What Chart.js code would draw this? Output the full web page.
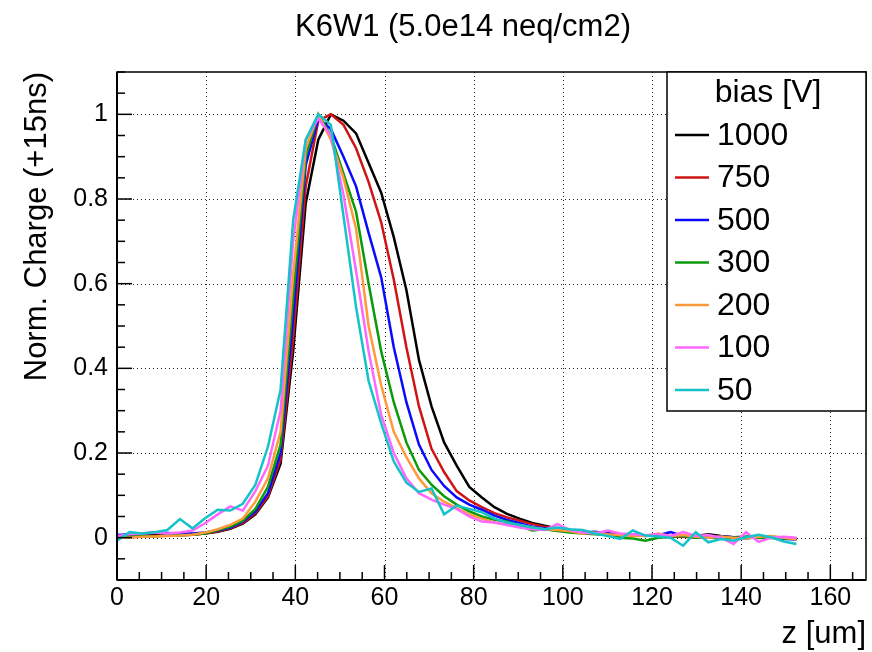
<!DOCTYPE html>
<html>
<head>
<meta charset="utf-8">
<title>K6W1 (5.0e14 neq/cm2)</title>
<script src="https://cdn.jsdelivr.net/npm/chart.js@4.4.1/dist/chart.umd.min.js"></script>
<style>
  html, body { margin: 0; padding: 0; background: #fff; }
  #wrap { width: 872px; height: 652px; }
</style>
</head>
<body>
<div id="wrap"><canvas id="chart" width="872" height="652"></canvas></div>
<script>
// --- DATA ---
const zPositions = [
  0, 2.82, 5.64, 8.47, 11.29, 14.11, 16.93, 19.75, 22.58, 25.40,
  28.22, 31.04, 33.86, 36.69, 39.51, 42.33, 45.15, 47.97, 50.80, 53.62,
  56.44, 59.26, 62.08, 64.91, 67.73, 70.55, 73.37, 76.19, 79.02, 81.84,
  84.66, 87.48, 90.30, 93.13, 95.95, 98.77, 101.59, 104.41, 107.24, 110.06,
  112.88, 115.70, 118.52, 121.35, 124.17, 126.99, 129.81, 132.63, 135.46, 138.28,
  141.10, 143.92, 146.74, 149.57, 152.39
];

const bias1000 = [
  0.004, 0.006, 0.005, 0.006, 0.006, 0.007, 0.008, 0.010, 0.014, 0.021,
  0.033, 0.055, 0.095, 0.175, 0.44, 0.79, 0.94, 1.0, 0.985, 0.955,
  0.885, 0.815, 0.71, 0.585, 0.42, 0.31, 0.225, 0.17, 0.12, 0.095,
  0.072, 0.056, 0.045, 0.035, 0.028, 0.022, 0.018, 0.014, 0.012, 0.010,
  0.008, 0.007, 0.006, 0.004, 0.003, 0.002, 0.004, 0.008, 0.004, 0.001,
  0.002, 0.004, 0.002, 0.000, -0.002
];
const bias750 = [
  0.002, 0.004, 0.005, 0.004, 0.006, 0.006, 0.007, 0.010, 0.015, 0.022,
  0.035, 0.058, 0.098, 0.185, 0.47, 0.83, 0.985, 1.0, 0.975, 0.92,
  0.84, 0.745, 0.61, 0.45, 0.31, 0.21, 0.155, 0.11, 0.088, 0.072,
  0.058, 0.048, 0.040, 0.032, 0.026, 0.021, 0.017, 0.013, 0.012, 0.010,
  0.007, 0.006, 0.005, 0.006, 0.003, 0.002, 0.000, 0.003, 0.002, -0.001,
  0.001, 0.003, 0.000, -0.002, -0.004
];
const bias500 = [
  0.006, 0.008, 0.010, 0.012, 0.011, 0.010, 0.010, 0.012, 0.017, 0.024,
  0.038, 0.062, 0.105, 0.20, 0.52, 0.88, 0.99, 0.965, 0.90, 0.83,
  0.72, 0.615, 0.45, 0.32, 0.22, 0.16, 0.122, 0.095, 0.078, 0.066,
  0.052, 0.042, 0.034, 0.026, 0.022, 0.020, 0.016, 0.012, 0.014, 0.010,
  0.006, 0.008, 0.004, 0.006, 0.013, 0.004, 0.002, 0.000, 0.003, 0.001,
  -0.002, 0.002, 0.001, -0.003, -0.004
];
const bias300 = [
  0.000, 0.002, 0.004, 0.003, 0.005, 0.006, 0.007, 0.010, 0.018, 0.026,
  0.040, 0.068, 0.12, 0.22, 0.57, 0.90, 1.0, 0.95, 0.86, 0.77,
  0.60, 0.44, 0.32, 0.225, 0.16, 0.125, 0.098, 0.078, 0.062, 0.050,
  0.042, 0.038, 0.028, 0.017, 0.020, 0.016, 0.012, 0.010, 0.008, 0.006,
  0.000, -0.002, -0.007, 0.000, 0.002, 0.004, 0.000, 0.002, -0.002, 0.000,
  0.002, -0.001, 0.000, -0.002, -0.003
];
const bias200 = [
  0.000, 0.000, 0.002, 0.003, 0.004, 0.005, 0.007, 0.012, 0.020, 0.030,
  0.045, 0.085, 0.14, 0.25, 0.62, 0.92, 1.0, 0.94, 0.85, 0.73,
  0.50, 0.36, 0.25, 0.19, 0.14, 0.105, 0.085, 0.070, 0.055, 0.045,
  0.036, 0.032, 0.030, 0.024, 0.020, 0.018, 0.015, 0.010, 0.012, 0.008,
  0.006, 0.004, 0.004, 0.010, 0.004, 0.006, 0.002, 0.000, 0.003, 0.000,
  -0.002, 0.002, 0.004, 0.000, -0.004
];
const bias100 = [
  0.004, 0.008, 0.010, 0.012, 0.010, 0.012, 0.017, 0.034, 0.055, 0.074,
  0.064, 0.11, 0.17, 0.30, 0.70, 0.94, 0.99, 0.95, 0.81, 0.63,
  0.44, 0.29, 0.20, 0.14, 0.105, 0.090, 0.078, 0.068, 0.050, 0.038,
  0.036, 0.030, 0.024, 0.020, 0.018, 0.032, 0.018, 0.012, 0.010, 0.017,
  0.010, 0.008, 0.006, 0.008, 0.004, 0.013, 0.004, 0.006, 0.000, -0.015,
  0.013, -0.010, 0.000, 0.002, 0.000
];
const bias50 = [
  -0.007, 0.013, 0.010, 0.013, 0.018, 0.044, 0.022, 0.046, 0.066, 0.064,
  0.080, 0.125, 0.215, 0.35, 0.75, 0.94, 1.0, 0.975, 0.76, 0.545,
  0.37, 0.27, 0.18, 0.13, 0.108, 0.116, 0.055, 0.076, 0.068, 0.060,
  0.045, 0.036, 0.030, 0.024, 0.020, 0.024, 0.020, 0.018, 0.010, 0.004,
  -0.003, 0.017, 0.005, 0.003, 0.000, -0.019, 0.013, -0.011, -0.003, -0.007,
  0.001, 0.007, 0.001, -0.009, -0.015
];

const seriesLabels = ['1000', '750', '500', '300', '200', '100', '50'];
const seriesValues = [bias1000, bias750, bias500, bias300, bias200, bias100, bias50];
const seriesColors = ['#000000', '#d01414', '#0a0aff', '#0a9a0a', '#ff9a3c', '#ff66ff', '#14c3c8'];

const xTickValues = [0, 20, 40, 60, 80, 100, 120, 140, 160];
const yTickValues = [0, 0.2, 0.4, 0.6, 0.8, 1];
const yTickLabels = ['0', '0.2', '0.4', '0.6', '0.8', '1'];

// --- STYLE ---
const FONT = '"Liberation Sans", Arial, Helvetica, sans-serif';
const X_MIN = 0, X_MAX = 168, Y_MIN = -0.1, Y_MAX = 1.1;

function seg(ctx, x1, y1, x2, y2) {
  ctx.beginPath(); ctx.moveTo(x1, y1); ctx.lineTo(x2, y2); ctx.stroke();
}

// grid, frame, ticks, titles and legend drawn ROOT-style
const rootFrame = {
  id: 'rootFrame',
  beforeDatasetsDraw(chart) {
    const { ctx, chartArea: a, scales: { x, y } } = chart;
    ctx.save();
    ctx.strokeStyle = '#222';
    ctx.lineWidth = 1;
    ctx.setLineDash([1, 3]);
    xTickValues.forEach(v => {
      if (v === X_MIN) return;
      const px = Math.round(x.getPixelForValue(v)) + 0.5;
      seg(ctx, px, a.top, px, a.bottom);
    });
    yTickValues.forEach(v => {
      const py = Math.round(y.getPixelForValue(v)) + 0.5;
      seg(ctx, a.left, py, a.right, py);
    });
    ctx.restore();
  },
  afterDatasetsDraw(chart) {
    const { ctx, chartArea: a, scales: { x, y } } = chart;
    ctx.save();
    ctx.strokeStyle = '#000';
    ctx.setLineDash([]);

    // frame
    ctx.lineWidth = 1.5;
    ctx.strokeRect(a.left, a.top, a.right - a.left, a.bottom - a.top);
    ctx.lineWidth = 2;
    seg(ctx, a.left, a.top, a.left, a.bottom);
    seg(ctx, a.left, a.bottom, a.right, a.bottom);

    // x ticks (major every 20, minor every 5)
    ctx.lineWidth = 1.5;
    for (let v = 0; v <= X_MAX; v += 5) {
      const px = x.getPixelForValue(v);
      const len = (v % 20 === 0) ? 15 : 8;
      seg(ctx, px, a.bottom, px, a.bottom - len);
    }
    // y ticks (major every 0.2, minor every 0.05)
    for (let k = -2; k <= 22; k++) {
      const v = k * 0.05;
      const py = y.getPixelForValue(v);
      const len = (k % 4 === 0) ? 15 : 8;
      seg(ctx, a.left, py, a.left + len, py);
    }

    // tick labels
    ctx.fillStyle = '#000';
    ctx.font = '25px ' + FONT;
    ctx.textAlign = 'center';
    ctx.textBaseline = 'top';
    xTickValues.forEach(v => ctx.fillText(String(v), x.getPixelForValue(v), a.bottom + 6));
    ctx.textAlign = 'right';
    ctx.textBaseline = 'middle';
    yTickValues.forEach((v, i) => ctx.fillText(yTickLabels[i], a.left - 9, y.getPixelForValue(v)));

    // axis titles
    ctx.font = '31px ' + FONT;
    ctx.textAlign = 'right';
    ctx.textBaseline = 'alphabetic';
    ctx.fillText('z [um]', a.right, 643);
    ctx.save();
    ctx.translate(46, a.top);
    ctx.rotate(-Math.PI / 2);
    ctx.textAlign = 'right';
    ctx.fillText('Norm. Charge (+15ns)', 0, 0);
    ctx.restore();

    // title
    ctx.font = '31px ' + FONT;
    ctx.textAlign = 'center';
    ctx.fillText('K6W1 (5.0e14 neq/cm2)', 463, 36);

    // legend box
    const bx = 667, by = 72, bw = 199, bh = 339;
    ctx.fillStyle = '#fff';
    ctx.fillRect(bx, by, bw, bh);
    ctx.lineWidth = 1.5;
    ctx.strokeStyle = '#000';
    ctx.strokeRect(bx, by, bw, bh);
    ctx.fillStyle = '#000';
    ctx.font = '32px ' + FONT;
    ctx.textAlign = 'center';
    ctx.textBaseline = 'middle';
    ctx.fillText('bias [V]', 768, 93);
    ctx.textAlign = 'left';
    seriesLabels.forEach((lab, i) => {
      const cy = 135 + i * 42.5;
      ctx.strokeStyle = seriesColors[i];
      ctx.lineWidth = 2.5;
      seg(ctx, 675, cy, 709, cy);
      ctx.fillText(lab, 717, cy + 1);
    });
    ctx.restore();
  }
};

const datasets = seriesLabels.map((lab, i) => ({
  label: lab,
  data: zPositions.map((z, j) => ({ x: z, y: seriesValues[i][j] })),
  borderColor: seriesColors[i],
  borderWidth: 2.5,
  pointRadius: 0,
  tension: 0,
  fill: false,
  order: seriesLabels.length - i
}));

new Chart(document.getElementById('chart'), {
  type: 'line',
  data: { datasets },
  options: {
    responsive: false,
    animation: false,
    devicePixelRatio: 1,
    layout: { padding: { left: 117, top: 72, right: 6, bottom: 72 } },
    scales: {
      x: { type: 'linear', min: X_MIN, max: X_MAX, display: false },
      y: { type: 'linear', min: Y_MIN, max: Y_MAX, display: false }
    },
    plugins: { legend: { display: false }, tooltip: { enabled: false } }
  },
  plugins: [rootFrame]
});
</script>
</body>
</html>
